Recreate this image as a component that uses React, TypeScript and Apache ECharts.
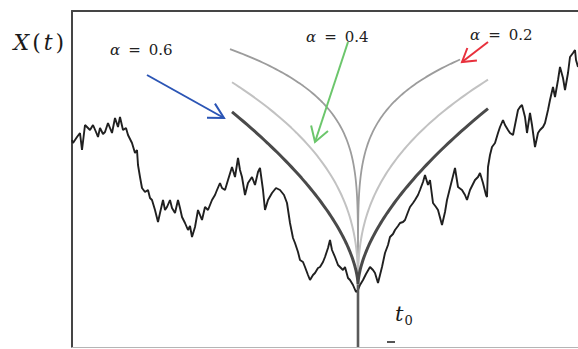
import { useEffect, useRef } from "react";
import * as echarts from "echarts";

// Sample path of the process: time step t and value X(t)
const T_MAX = 506;
const X_MAX = 3.36;

const pathT = [
  0, 1, 3, 5, 8, 10, 13, 16, 18, 21, 24, 26, 28, 31, 33, 36, 38, 40, 43, 46,
  48, 51, 54, 56, 60, 63, 65, 66, 68, 70, 73, 76, 78, 80, 83, 86, 88, 91, 93, 95,
  98, 100, 103, 106, 108, 110, 113, 116, 118, 120, 123, 126, 128, 130, 133, 136, 138, 140, 143, 145,
  148, 150, 153, 156, 160, 163, 166, 168, 170, 173, 176, 180, 183, 186, 188, 191, 193, 196, 200, 204,
  208, 212, 215, 218, 221, 223, 226, 228, 231, 233, 236, 238, 241, 243, 246, 248, 251, 253, 256, 258,
  260, 263, 266, 268, 271, 273, 276, 278, 281, 284, 286, 288, 291, 294, 298, 301, 303, 306, 308, 310,
  313, 316, 318, 321, 323, 326, 328, 331, 333, 336, 338, 341, 343, 346, 348, 351, 353, 356, 358, 361,
  364, 366, 370, 373, 375, 378, 380, 383, 386, 390, 393, 395, 398, 401, 403, 406, 408, 411, 414, 415,
  416, 418, 420, 423, 426, 428, 431, 433, 436, 438, 441, 444, 446, 448, 450, 453, 455, 458, 460, 463,
  466, 468, 471, 473, 476, 478, 481, 483, 486, 488, 491, 493, 496, 498, 501, 503, 504, 506,
];

const pathX = [
  2.07, 2.04, 2.07, 2.10, 2.14, 1.97, 2.22, 2.19, 2.17, 2.22, 2.15, 2.10, 2.19, 2.13, 2.15, 2.24, 2.19, 2.14, 2.29, 2.20,
  2.30, 2.17, 2.19, 2.12, 2.04, 1.94, 1.97, 1.82, 1.70, 1.59, 1.55, 1.57, 1.49, 1.47, 1.37, 1.25, 1.34, 1.47, 1.37, 1.40,
  1.47, 1.39, 1.34, 1.47, 1.39, 1.30, 1.24, 1.17, 1.21, 1.10, 1.20, 1.37, 1.32, 1.27, 1.40, 1.37, 1.42, 1.47, 1.52, 1.57,
  1.64, 1.59, 1.57, 1.67, 1.80, 1.70, 1.89, 1.77, 1.70, 1.52, 1.64, 1.70, 1.62, 1.75, 1.79, 1.57, 1.37, 1.47, 1.54, 1.59,
  1.57, 1.52, 1.44, 1.24, 1.09, 1.04, 0.95, 0.87, 0.85, 0.80, 0.72, 0.67, 0.72, 0.74, 0.79, 0.80, 0.85, 0.90, 0.99, 1.07,
  0.97, 0.90, 0.82, 0.80, 0.77, 0.80, 0.69, 0.67, 0.62, 0.55, 0.57, 0.62, 0.67, 0.73, 0.80, 0.77, 0.74, 0.64, 0.72, 0.80,
  0.94, 1.02, 1.10, 1.13, 1.17, 1.21, 1.24, 1.25, 1.27, 1.35, 1.40, 1.44, 1.47, 1.52, 1.57, 1.65, 1.72, 1.62, 1.67, 1.44,
  1.40, 1.37, 1.22, 1.35, 1.47, 1.59, 1.67, 1.79, 1.60, 1.57, 1.52, 1.47, 1.57, 1.63, 1.67, 1.70, 1.74, 1.64, 1.52, 1.50,
  1.80, 1.92, 2.00, 2.04, 2.14, 2.20, 2.27, 2.22, 2.17, 2.14, 2.12, 2.27, 2.37, 2.40, 2.42, 2.30, 2.14, 2.34, 2.22, 2.00,
  2.14, 2.17, 2.20, 2.24, 2.37, 2.47, 2.60, 2.50, 2.67, 2.80, 2.69, 2.57, 2.74, 2.90, 2.94, 2.97, 2.87, 2.80,
];

// Hölder envelopes X(t0) + A|t - t0|^alpha around the point t0
const t0 = 286;
const x0 = 0.62;
const alphas = [0.6, 0.4, 0.2];
const amplitudes = [0.0951, 0.293, 0.894];
const envStart = [160, 160, 158];
const envEnd = [416, 416, 388];
const alphaValues = ["0.6", "0.4", "0.2"];
const envColors = ["#4a4a4a", "#c2c2c2", "#9c9c9c"];
const envWidths = [3, 2, 1.8];

function envelope(i: number): number[][] {
  const a = alphas[i];
  const A = amplitudes[i];
  const n = 80;
  const pts: number[][] = [];
  const left = t0 - envStart[i];
  for (let k = n; k >= 0; k--) {
    const d = left * Math.pow(k / n, 2.5);
    pts.push([t0 - d, x0 + A * Math.pow(d, a)]);
  }
  const right = envEnd[i] - t0;
  for (let k = 1; k <= n; k++) {
    const d = right * Math.pow(k / n, 2.5);
    pts.push([t0 + d, x0 + A * Math.pow(d, a)]);
  }
  return pts;
}

function arrow(x1: number, y1: number, x2: number, y2: number, color: string, len: number, spread: number) {
  const ang = Math.atan2(y2 - y1, x2 - x1);
  const b1 = [x2 - len * Math.cos(ang - spread), y2 - len * Math.sin(ang - spread)];
  const b2 = [x2 - len * Math.cos(ang + spread), y2 - len * Math.sin(ang + spread)];
  return [
    { type: "line", z: 20, shape: { x1, y1, x2, y2 }, style: { stroke: color, lineWidth: 2 } },
    {
      type: "polyline",
      z: 20,
      shape: { points: [b1, [x2, y2], b2] },
      style: { stroke: color, lineWidth: 2, fill: null },
    },
  ];
}

const SERIF = "'DejaVu Serif', 'Liberation Serif', serif";

function alphaLabel(x: number, y: number, value: string) {
  return {
    type: "text",
    z: 21,
    x,
    y,
    style: {
      text: `{a|α}{e|=}{v|${value}}`,
      verticalAlign: "middle",
      rich: {
        a: { fontFamily: SERIF, fontStyle: "italic", fontSize: 15, fill: "#222" },
        e: { fontFamily: SERIF, fontSize: 15, fill: "#222", padding: [0, 8] },
        v: { fontFamily: SERIF, fontSize: 15, fill: "#222" },
      },
    },
  };
}

export default function App() {
  const ref = useRef<HTMLDivElement>(null);

  useEffect(() => {
    if (!ref.current) return;
    const chart = echarts.init(ref.current, null, { renderer: "svg" });

    const hiddenAxisParts = {
      axisTick: { show: false },
      axisLabel: { show: false },
      splitLine: { show: false },
    };

    const series: any[] = [
      {
        type: "line",
        data: pathT.map((t, i) => [t, pathX[i]]),
        symbol: "none",
        lineStyle: { color: "#202020", width: 1.9 },
        z: 2,
      },
      {
        type: "line",
        data: [
          [t0, x0],
          [t0, 0],
        ],
        symbol: "none",
        lineStyle: { color: "#5a5a5a", width: 2.6 },
        z: 3,
      },
    ];
    [2, 1, 0].forEach((i) => {
      series.push({
        type: "line",
        data: envelope(i),
        symbol: "none",
        lineStyle: { color: envColors[i], width: envWidths[i] },
        z: 4,
      });
    });

    chart.setOption({
      animation: false,
      backgroundColor: "#ffffff",
      grid: { left: 72, right: 0, top: 11, bottom: 2 },
      xAxis: [
        {
          type: "value",
          min: 0,
          max: T_MAX,
          position: "top",
          axisLine: { show: true, onZero: false, lineStyle: { color: "#454545", width: 2 } },
          ...hiddenAxisParts,
        },
        {
          type: "value",
          min: 0,
          max: T_MAX,
          position: "bottom",
          axisLine: { show: true, onZero: false, lineStyle: { color: "#b5b5b5", width: 1 } },
          ...hiddenAxisParts,
        },
      ],
      yAxis: {
        type: "value",
        min: 0,
        max: X_MAX,
        axisLine: { show: true, onZero: false, lineStyle: { color: "#454545", width: 2 } },
        ...hiddenAxisParts,
      },
      series,
      graphic: [
        {
          type: "text",
          z: 21,
          x: 12,
          y: 42,
          style: {
            text: "{i|X}{p|(}{i|t}{p|)}",
            verticalAlign: "middle",
            rich: {
              i: { fontFamily: SERIF, fontStyle: "italic", fontSize: 22, fill: "#1a1a1a", padding: [0, 1.5] },
              p: { fontFamily: SERIF, fontSize: 22, fill: "#1a1a1a", padding: [0, 1.5] },
            },
          },
        },
        {
          type: "text",
          z: 21,
          x: 395,
          y: 314,
          style: {
            text: "{i|t}{s|0}",
            verticalAlign: "middle",
            rich: {
              i: { fontFamily: SERIF, fontStyle: "italic", fontSize: 21, fill: "#1a1a1a" },
              s: { fontFamily: SERIF, fontSize: 13, fill: "#1a1a1a", padding: [12, 0, 0, 1] },
            },
          },
        },
        {
          type: "line",
          z: 21,
          shape: { x1: 387, y1: 342, x2: 395, y2: 342 },
          style: { stroke: "#555", lineWidth: 2 },
        },
        alphaLabel(110, 50, alphaValues[0]),
        alphaLabel(306, 37, alphaValues[1]),
        alphaLabel(470, 35, alphaValues[2]),
        ...arrow(147, 75, 224, 118, "#2b55b5", 17, 0.5),
        ...arrow(348, 42, 315, 142, "#6cc66c", 17, 0.55),
        ...arrow(488, 42, 462, 62, "#e8303c", 15, 0.55),
      ],
    });

    return () => chart.dispose();
  }, []);

  return (
    <div
      ref={ref}
      style={{ position: "fixed", left: 0, top: 0, width: 578, height: 349, background: "#fff" }}
    />
  );
}
